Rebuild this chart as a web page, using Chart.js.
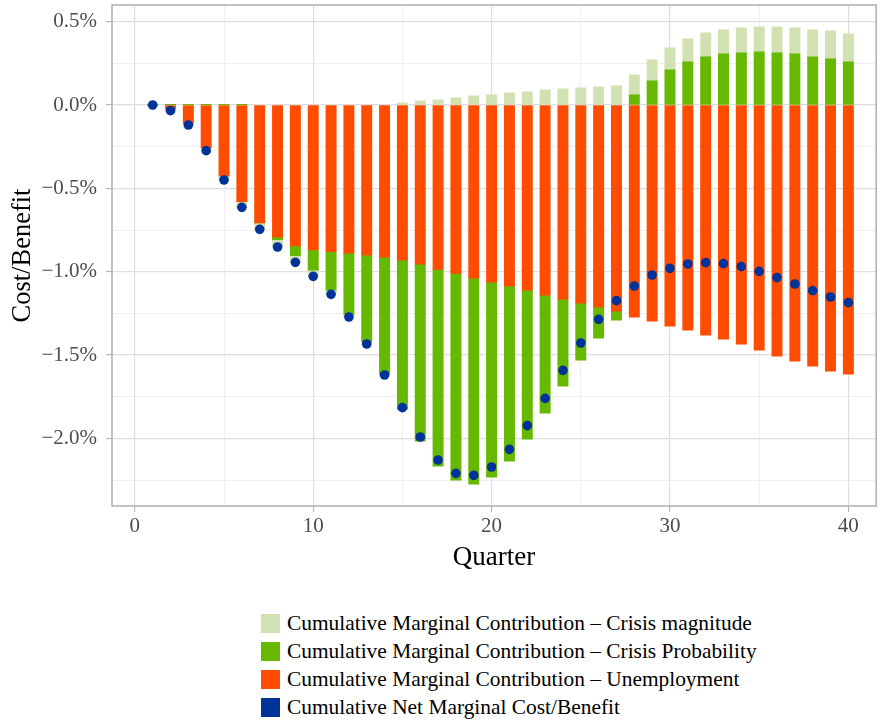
<!DOCTYPE html>
<html>
<head>
<meta charset="utf-8">
<title>Cumulative marginal cost/benefit by quarter</title>
<script src="https://cdn.jsdelivr.net/npm/chart.js@4.4.1/dist/chart.umd.min.js"></script>
<style>
  html, body { margin: 0; padding: 0; background: #fff; }
  #wrap { position: relative; width: 881px; height: 724px; }
  #chartBox { position: absolute; left: 0; top: 0; width: 881px; height: 590px; }
  #legend { position: absolute; left: 261px; top: 609px; font-family: 'Liberation Serif', 'DejaVu Serif', serif; font-size: 21.4px; color: #000; }
  #legend .item { display: flex; align-items: center; height: 28px; white-space: nowrap; }
  #legend .box { width: 19px; height: 19px; margin-right: 7px; flex: none; }
</style>
</head>
<body>
<div id="wrap">
  <div id="chartBox"><canvas id="costBenefitChart"></canvas></div>
  <div id="legend"></div>
</div>
<script>
  "use strict";

  // data, values in percent
  var quarters = [1, 2, 3, 4, 5, 6, 7, 8, 9, 10, 11, 12, 13, 14, 15, 16, 17, 18, 19, 20,
    21, 22, 23, 24, 25, 26, 27, 28, 29, 30, 31, 32, 33, 34, 35, 36, 37, 38, 39, 40];

  var unemployment = [0, -0.022, -0.110, -0.256, -0.425, -0.580, -0.707, -0.792, -0.845, -0.869,
    -0.880, -0.888, -0.900, -0.912, -0.930, -0.954, -0.986, -1.010, -1.038, -1.062,
    -1.086, -1.110, -1.140, -1.164, -1.188, -1.212, -1.236, -1.272, -1.296, -1.326,
    -1.350, -1.380, -1.404, -1.434, -1.470, -1.506, -1.536, -1.566, -1.596, -1.614];

  var crisisProbability = [0, 0.003, 0.003, 0.003, 0.003, 0.003, 0, -0.016, -0.059, -0.121,
    -0.230, -0.366, -0.520, -0.702, -0.896, -1.062, -1.180, -1.240, -1.236, -1.170,
    -1.050, -0.894, -0.708, -0.522, -0.342, -0.186, -0.054, 0.060, 0.144, 0.210,
    0.258, 0.288, 0.306, 0.312, 0.318, 0.312, 0.306, 0.288, 0.276, 0.258];

  var crisisMagnitude = [0, -0.015, -0.013, -0.021, -0.028, -0.037, -0.039, -0.044, -0.040, -0.038,
    -0.026, -0.018, -0.014, -0.006, 0.012, 0.024, 0.030, 0.042, 0.054, 0.060,
    0.072, 0.078, 0.090, 0.096, 0.102, 0.108, 0.114, 0.120, 0.126, 0.132,
    0.138, 0.144, 0.144, 0.150, 0.150, 0.156, 0.156, 0.162, 0.168, 0.168];

  var netCostBenefit = [0, -0.034, -0.120, -0.274, -0.450, -0.614, -0.746, -0.852, -0.944, -1.028,
    -1.136, -1.272, -1.434, -1.620, -1.816, -1.992, -2.130, -2.210, -2.222, -2.172,
    -2.066, -1.924, -1.760, -1.592, -1.428, -1.286, -1.174, -1.086, -1.020, -0.980,
    -0.954, -0.946, -0.952, -0.970, -0.998, -1.036, -1.074, -1.114, -1.152, -1.186];

  var xTicks = [0, 5, 10, 15, 20, 25, 30, 35, 40];
  var yTicks = [-2.25, -2, -1.75, -1.5, -1.25, -1, -0.75, -0.5, -0.25, 0, 0.25, 0.5];

  var colMagnitude = '#d1e1b1';
  var colProbability = '#66b800';
  var colUnemployment = '#ff4c00';
  var colNet = '#003399';

  Chart.defaults.font.family = "'Liberation Serif', 'DejaVu Serif', serif";

  function isMajorY(v) {
    return v !== undefined && Math.abs(v * 2 - Math.round(v * 2)) < 1e-6;
  }
  function isMajorX(v) {
    return v !== undefined && Math.abs(v / 10 - Math.round(v / 10)) < 1e-6;
  }
  function pct(v) {
    var s = Math.abs(v).toFixed(1) + '%';
    return v < -1e-9 ? '\u2212' + s : s;
  }
  function tickVal(ctx) {
    return ctx.tick ? ctx.tick.value : undefined;
  }

  // grey frame round the panel, like the ggplot border
  var panelBorder = {
    id: 'panelBorder',
    afterDraw: function(chart) {
      var a = chart.chartArea;
      var c = chart.ctx;
      c.save();
      c.strokeStyle = '#b3b3b3';
      c.lineWidth = 1.6;
      c.strokeRect(a.left, a.top, a.right - a.left, a.bottom - a.top);
      c.restore();
    }
  };

  var ctx = document.getElementById('costBenefitChart').getContext('2d');
  var chart = new Chart(ctx, {
    type: 'bar',
    data: {
      labels: quarters,
      datasets: [{
          type: 'line',
          label: 'Cumulative Net Marginal Cost/Benefit',
          stack: 'net',
          data: netCostBenefit,
          showLine: false,
          borderColor: colNet,
          backgroundColor: colNet,
          pointBackgroundColor: colNet,
          pointBorderWidth: 0,
          pointRadius: 4.8,
          pointHoverRadius: 4.8
        },
        {
          label: 'Cumulative Marginal Contribution \u2013 Unemployment',
          stack: 'parts',
          data: unemployment,
          backgroundColor: colUnemployment
        },
        {
          label: 'Cumulative Marginal Contribution \u2013 Crisis Probability',
          stack: 'parts',
          data: crisisProbability,
          backgroundColor: colProbability
        },
        {
          label: 'Cumulative Marginal Contribution \u2013 Crisis magnitude',
          stack: 'parts',
          data: crisisMagnitude,
          backgroundColor: colMagnitude
        }
      ]
    },
    options: {
      responsive: true,
      maintainAspectRatio: false,
      animation: false,
      datasets: {
        bar: {
          categoryPercentage: 1,
          barPercentage: 0.57,
          inflateAmount: 0.4, // closes the hairline seam where stacked pieces meet
          borderWidth: 0
        }
      },
      layout: {
        padding: { top: 5, right: 2, bottom: 0, left: 0 }
      },
      plugins: {
        legend: { display: false },
        tooltip: { enabled: false }
      },
      scales: {
        x: {
          type: 'linear',
          min: -1.28,
          max: 41.56,
          offset: false,
          stacked: true,
          afterBuildTicks: function(axis) {
            axis.ticks = xTicks.map(function(v) { return { value: v }; });
          },
          afterFit: function(axis) {
            axis.height = 84;
            axis.paddingLeft = 0;
            axis.paddingRight = 0;
          },
          border: { display: false },
          grid: {
            offset: false,
            color: function(c) { return isMajorX(tickVal(c)) ? '#dedede' : '#e8e8e8'; },
            lineWidth: function(c) { return isMajorX(tickVal(c)) ? 1.2 : 0.7; },
            tickColor: function(c) { return isMajorX(tickVal(c)) ? '#b3b3b3' : 'rgba(0,0,0,0)'; },
            tickWidth: 1.1,
            tickLength: 6
          },
          ticks: {
            autoSkip: false,
            maxRotation: 0,
            padding: 2,
            color: '#4d4d4d',
            font: { size: 21 },
            callback: function(v) { return isMajorX(v) ? String(v) : ''; }
          },
          title: {
            display: true,
            text: 'Quarter',
            color: '#000',
            font: { size: 27 },
            padding: { top: 0, bottom: 16 }
          }
        },
        y: {
          type: 'linear',
          min: -2.406,
          max: 0.6,
          stacked: true,
          afterBuildTicks: function(axis) {
            axis.ticks = yTicks.map(function(v) { return { value: v }; });
          },
          afterFit: function(axis) {
            axis.width = 112;
            axis.paddingTop = 0;
            axis.paddingBottom = 0;
          },
          border: { display: false },
          grid: {
            color: function(c) { return isMajorY(tickVal(c)) ? '#dedede' : '#e8e8e8'; },
            lineWidth: function(c) { return isMajorY(tickVal(c)) ? 1.2 : 0.7; },
            tickColor: function(c) { return isMajorY(tickVal(c)) ? '#b3b3b3' : 'rgba(0,0,0,0)'; },
            tickWidth: 1.1,
            tickLength: 6
          },
          ticks: {
            autoSkip: false,
            padding: 9,
            color: '#4d4d4d',
            font: { size: 21 },
            callback: function(v) { return isMajorY(v) ? pct(v) : ''; }
          },
          title: {
            display: true,
            text: 'Cost/Benefit',
            color: '#000',
            font: { size: 26.5 },
            padding: { top: 7, bottom: 0 }
          }
        }
      }
    },
    plugins: [panelBorder]
  });

  // legend listed the way the reference shows it
  var legendOrder = [3, 2, 1, 0];
  var legendBox = document.getElementById('legend');
  legendOrder.forEach(function(i) {
    var ds = chart.data.datasets[i];
    var row = document.createElement('div');
    row.className = 'item';
    var box = document.createElement('span');
    box.className = 'box';
    box.style.background = ds.backgroundColor;
    var txt = document.createElement('span');
    txt.textContent = ds.label;
    row.appendChild(box);
    row.appendChild(txt);
    legendBox.appendChild(row);
  });
</script>
</body>
</html>
